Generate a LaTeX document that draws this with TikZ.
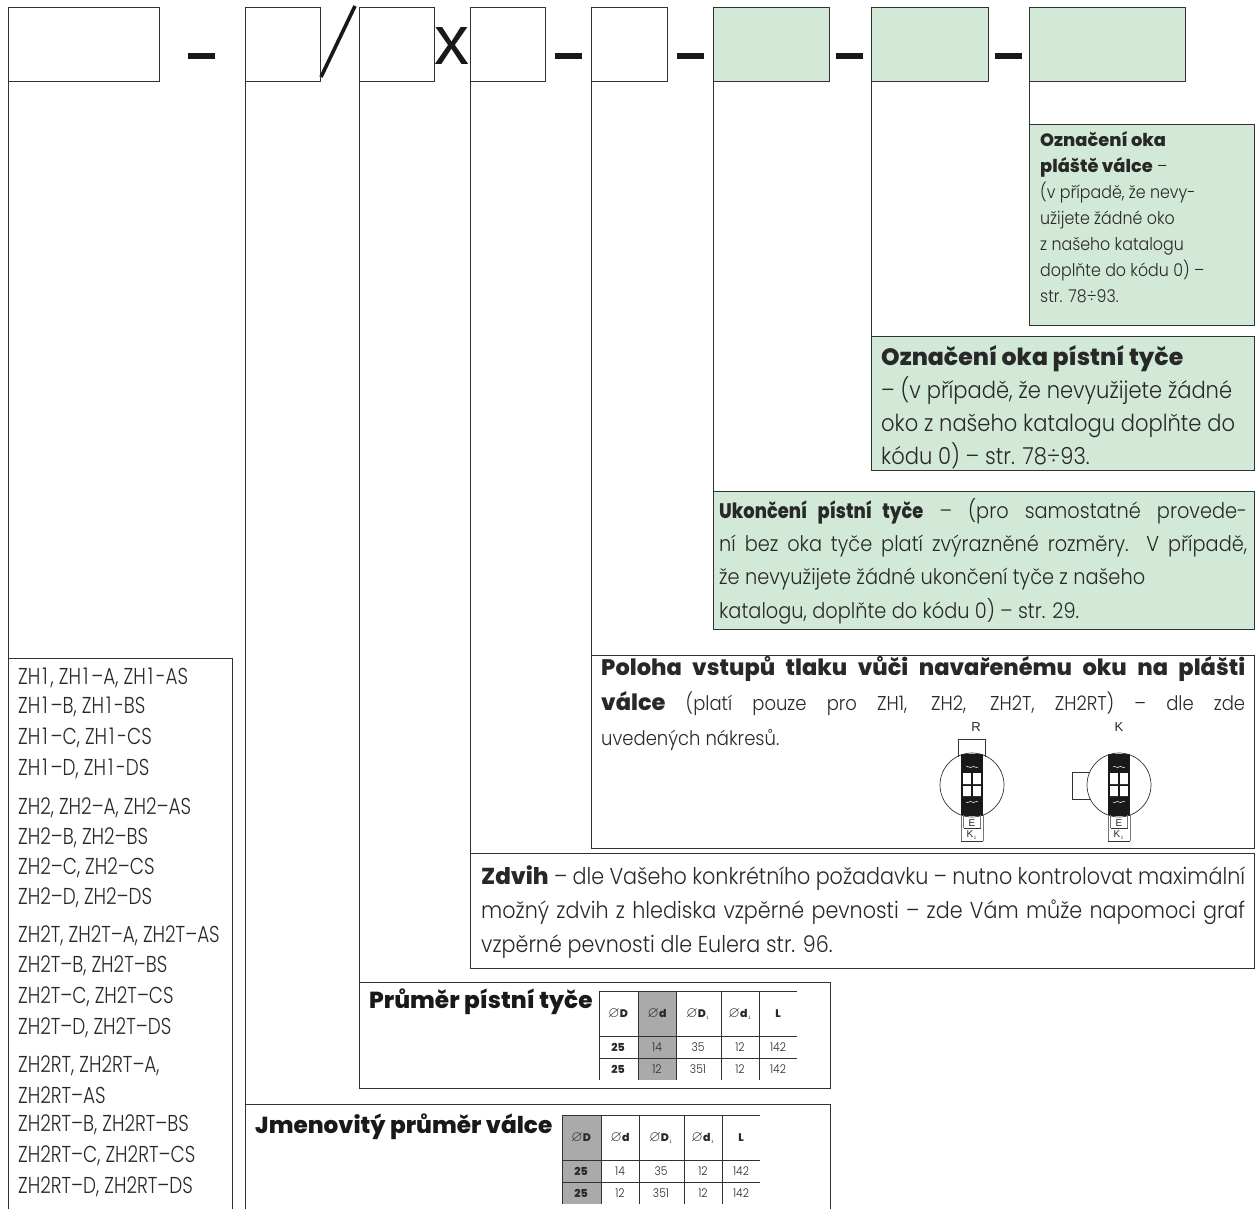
\documentclass[tikz,border=0pt]{standalone}
\usepackage{fontspec}
\usepackage{amssymb}
\setmainfont[FakeStretch=0.9,BoldFont={Poppins ExtraBold},BoldFeatures={FakeStretch=1.0}]{Poppins Light}
\newfontfamily\lstfont[FakeStretch=0.8]{Poppins Light}
\newfontfamily\narb[FakeStretch=0.85]{Poppins ExtraBold}
\newfontfamily\arialf{Liberation Sans}
\definecolor{grn}{RGB}{209,233,214}
\definecolor{ln}{RGB}{50,50,50}
\definecolor{tx}{RGB}{40,40,40}
\definecolor{gry}{RGB}{170,170,170}
\tikzset{
 x=1pt,y=-1pt,
 box/.style={draw=ln,line width=1pt,inner sep=0pt,outer sep=0pt,anchor=north west},
 gbox/.style={box,fill=grn},
 lead/.style={draw=ln,line width=1pt},
 sep/.style={fill=black!90,inner sep=0pt,minimum width=27pt,minimum height=6pt},
 body/.style={anchor=north west,inner sep=0pt,text=tx,align=left},
 ttitle/.style={anchor=west,inner sep=0pt,text=black!90,font=\fontsize{23.2}{26}\bfseries\selectfont},
 lst/.style={anchor=west,inner sep=0pt,text=tx,font=\fontsize{23}{26}\lstfont\selectfont},
 cell/.style={inner sep=0pt,text=tx,font=\fontsize{12}{14}\selectfont},
 hcell/.style={inner sep=0pt,text=tx,font=\fontsize{11}{14}\selectfont},
 tl/.style={draw=ln,line width=0.8pt},
 dia/.style={font=\fontsize{10}{11}\arialf\selectfont,inner sep=0pt,text=tx},
}
\newcommand{\sline}[2]{\makebox[#1][s]{#2}}
\newcommand{\dm}{{\fontsize{15}{15}\selectfont$\varnothing$}}
\newcommand{\one}{\kern2pt 1\kern3pt}
\newcommand{\drawtable}[3]{%
 \begin{scope}[shift={(#1,#2)}]
  \fill[gry] ({\csname col#3\endcsname},0) rectangle ({\csname coln#3\endcsname},89);
  \draw[tl] (0,0)--(198,0) (0,45)--(198,45) (0,67)--(198,67);
  \foreach \xx in {0,39,77,122,160}{\draw[tl] (\xx,0)--(\xx,89);}
  \node[hcell] at (19,23) {\dm\textbf{D}};
  \node[hcell] at (58,23) {\dm\textbf{d}};
  \node[hcell] at (99,23) {\dm\textbf{D}$_{\scriptscriptstyle 1}$};
  \node[hcell] at (141,23) {\dm\textbf{d}$_{\scriptscriptstyle 1}$};
  \node[hcell] at (179,23) {\textbf{L}};
  \node[hcell] at (19,56) {\textbf{25}};\node[cell] at (58,56) {14};\node[cell] at (99,56) {35};\node[cell] at (141,56) {12};\node[cell] at (179,56) {142};
  \node[hcell] at (19,78) {\textbf{25}};\node[cell] at (58,78) {12};\node[cell] at (99,78) {351};\node[cell] at (141,78) {12};\node[cell] at (179,78) {142};
 \end{scope}}
\def\colA{0}\def\colnA{39}\def\colB{39}\def\colnB{77}
\newcommand{\eyedia}[2]{%
 \begin{scope}[shift={(#1,#2)}]
  \fill[black!90] (-11,-31) rectangle (11,31);
  \fill[white] (-8.8,-12) rectangle (-1.2,-1) (1.2,-12) rectangle (8.8,-1) (-8.8,1) rectangle (-1.2,11) (1.2,1) rectangle (8.8,11);
  \draw[white,line width=.5pt] (-6,-18) .. controls (-4,-20) and (-2,-16) .. (0,-18) .. controls (2,-20) and (4,-16) .. (6,-18);
  \draw[white,line width=.5pt] (-6,17) .. controls (-4,19) and (-2,15) .. (0,17) .. controls (2,19) and (4,15) .. (6,17);
  \draw[ln,line width=.7pt] (0,0) circle[radius=32];
  \draw[gry!70!black,line width=.7pt] (-11,30)--(-11,56) (11,30)--(11,56) (-8.5,30)--(-8.5,43) (8.5,30)--(8.5,43);
  \draw[ln,line width=.6pt] (-8.5,43)--(8.5,43) (-11,56)--(11,56);
  \node[dia] at (0,38) {E};
  \node[dia] at (0,50) {K$_{\scriptscriptstyle 1}$};
 \end{scope}}
\begin{document}
\begin{tikzpicture}
\useasboundingbox (0,0) rectangle (1255,1209);
% top boxes
\node[box,minimum width=151pt,minimum height=74pt] (t1) at (8,8) {};
\node[box,minimum width=75pt,minimum height=74pt] (t2) at (245,8) {};
\node[box,minimum width=75pt,minimum height=74pt] (t3) at (359,8) {};
\node[box,minimum width=75pt,minimum height=74pt] (t4) at (470,8) {};
\node[box,minimum width=76pt,minimum height=74pt] (t5) at (591,8) {};
\node[gbox,minimum width=116pt,minimum height=74pt] (t6) at (713,8) {};
\node[gbox,minimum width=117pt,minimum height=74pt] (t7) at (871,8) {};
\node[gbox,minimum width=156pt,minimum height=74pt] (t8) at (1029,8) {};
% separators
\node[sep] (s1) at (201,56) {};
\node[sep] (s2) at (568,56) {};
\node[sep] (s3) at (690,56) {};
\node[sep] (s4) at (849,56) {};
\node[sep] (s5) at (1008,56) {};
\draw[line width=3.6pt,black!90] (321,77)--(355,6);
\node[inner sep=0pt,text=black!90,font=\fontsize{70}{70}\arialf\selectfont] (xx) at (452,46) {x};
% lower boxes
\node[gbox,minimum width=225pt,minimum height=200pt] (b8) at (1029,125) {};
\node[gbox,minimum width=383pt,minimum height=134pt] (b7) at (871,336) {};
\node[gbox,minimum width=541pt,minimum height=138pt] (b6) at (713,491) {};
\node[box,minimum width=663pt,minimum height=193pt] (b5) at (591,655) {};
\node[box,minimum width=784pt,minimum height=115pt] (b4) at (470,853) {};
\node[box,minimum width=471pt,minimum height=106pt] (b3) at (359,982) {};
\coordinate (b2) at (245,1104);
\coordinate (b1) at (8,658);
\draw[lead] (245,1209)--(b2)--(830,1104)--(830,1209);
\draw[lead] (8,1209)--(b1)--(232,658)--(232,1209);
% leads
\draw[lead] (t1.south west)--(b1);
\draw[lead] (t2.south west)--(b2);
\draw[lead] (t3.south west)--(b3.north west);
\draw[lead] (t4.south west)--(b4.north west);
\draw[lead] (t5.south west)--(b5.north west);
\draw[lead] (t6.south west)--(b6.north west);
\draw[lead] (t7.south west)--(b7.north west);
\draw[lead] (t8.south west)--(b8.north west);
% texts
\node[body,font=\fontsize{17.6}{26}\selectfont] (l8) at (1040,131) {{\fontsize{17.8}{26}\selectfont\textbf{Označení oka}}\\{\fontsize{17.8}{26}\selectfont\textbf{pláště válce}} –\\(v případě, že nevy-\\užijete žádné oko\\z našeho katalogu\\doplňte do kódu 0) –\\str. 78÷93.};
\node[body,font=\fontsize{23.4}{33}\selectfont] (l7) at (881,345) {{\fontsize{23.6}{33}\selectfont\textbf{Označení oka pístní tyče}}\\– (v případě, že nevyužijete žádné\\oko z našeho katalogu doplňte do\\kódu 0) – str. 78÷93.};
\node[body,font=\fontsize{21.5}{33.3}\selectfont] (l6) at (719,498) {\sline{528pt}{{\narb\fontsize{21}{33}\selectfont Ukončení pístní tyče} – (pro samostatné provede-}\\\sline{528pt}{ní bez oka tyče platí zvýrazněné rozměry. V případě,}\\že nevyužijete žádné ukončení tyče z našeho\\katalogu, doplňte do kódu 0) – str. 29.};
\node[body,font=\fontsize{20}{35}\selectfont] (l5) at (601,656) {\sline{644pt}{{\fontsize{22.5}{35}\selectfont\textbf{Poloha vstupů tlaku vůči navařenému oku na plášti}}}\\\sline{644pt}{{\fontsize{22.5}{35}\selectfont\textbf{válce}} (platí pouze pro ZH1, ZH2, ZH2T, ZH2RT) – dle zde}\\uvedených nákresů.};
\node[body,font=\fontsize{23}{34}\selectfont] (l4) at (481,866) {\sline{764pt}{\textbf{Zdvih} – dle Vašeho konkrétního požadavku – nutno kontrolovat maximální}\\\sline{764pt}{možný zdvih z hlediska vzpěrné pevnosti – zde Vám může napomoci graf}\\vzpěrné pevnosti dle Eulera str. 96.};
\node[ttitle] (l3) at (369,1002) {Průměr pístní tyče};
\node[ttitle] (l2) at (255,1127) {Jmenovitý průměr válce};
% list
\node[lst] (a1) at (18,678) {ZH\one, ZH\one–A, ZH\one-AS};
\node[lst] (a2) at (18,707) {ZH\one–B, ZH\one-BS};
\node[lst] (a3) at (18,738) {ZH\one–C, ZH\one-CS};
\node[lst] (a4) at (18,769) {ZH\one–D, ZH\one-DS};
\node[lst] (a5) at (18,808) {ZH2, ZH2–A, ZH2–AS};
\node[lst] (a6) at (18,838) {ZH2–B, ZH2–BS};
\node[lst] (a7) at (18,868) {ZH2–C, ZH2–CS};
\node[lst] (a8) at (18,898) {ZH2–D, ZH2–DS};
\node[lst] (a9) at (18,936) {ZH2T, ZH2T–A, ZH2T–AS};
\node[lst] (a10) at (18,966) {ZH2T–B, ZH2T–BS};
\node[lst] (a11) at (18,997) {ZH2T–C, ZH2T–CS};
\node[lst] (a12) at (18,1028) {ZH2T–D, ZH2T–DS};
\node[lst] (a13) at (18,1066) {ZH2RT, ZH2RT–A,};
\node[lst] (a14) at (18,1095) {ZH2RT–AS};
\node[lst] (a15) at (18,1125) {ZH2RT–B, ZH2RT–BS};
\node[lst] (a16) at (18,1156) {ZH2RT–C, ZH2RT–CS};
\node[lst] (a17) at (18,1187) {ZH2RT–D, ZH2RT–DS};
% tables
\drawtable{599}{991}{B}
\drawtable{562}{1115}{A}
% diagrams
\eyedia{972}{785}
\eyedia{1119}{785}
\draw[ln,line width=.7pt] (958,757)--(958,739)--(985,739)--(985,757);
\draw[ln,line width=.7pt] (1090,772)--(1072,772)--(1072,799)--(1090,799);
\node[dia,font=\fontsize{13}{13}\arialf\selectfont] (r) at (976,727) {R};
\node[dia,font=\fontsize{13}{13}\arialf\selectfont] (k) at (1119,727) {K};
\end{tikzpicture}
\end{document}
